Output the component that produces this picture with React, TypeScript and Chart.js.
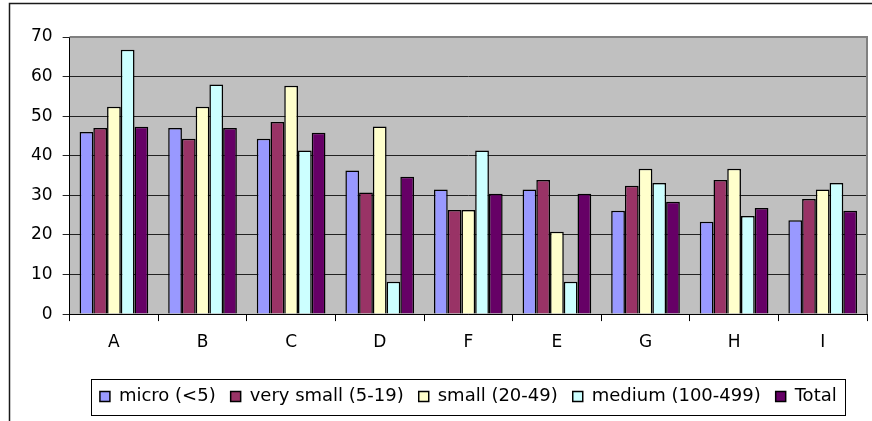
import React, { useEffect, useRef } from "react";
import { Chart, registerables } from "chart.js";

Chart.register(...registerables);

const categories = ["A", "B", "C", "D", "F", "E", "G", "H", "I"];
const seriesNames = ["micro (<5)", "very small (5-19)", "small (20-49)", "medium (100-499)", "Total"];
const micro = [46, 47, 44.3, 36.3, 31.5, 31.5, 26.1, 23.3, 23.7];
const verySmall = [47, 44.3, 48.5, 30.7, 26.3, 33.9, 32.4, 33.9, 29.1];
const small = [52.4, 52.4, 57.7, 47.4, 26.3, 20.8, 36.7, 36.7, 31.5];
const medium = [66.8, 58.0, 41.3, 8.2, 41.3, 8.2, 33.1, 24.8, 33.1];
const total = [47.3, 47.0, 45.8, 34.7, 30.4, 30.4, 28.4, 26.8, 26.1];
const colors = ["#9999FF", "#993366", "#FFFFCC", "#CCFFFF", "#660066"];
const yTickMax = 70;
const yTickStep = 10;

const framePlugin = {
  id: "frame",
  beforeDraw(chart: any) {
    const { ctx, chartArea, width, height } = chart;
    ctx.save();
    ctx.fillStyle = "#ffffff";
    ctx.fillRect(0, 0, width, height);
    ctx.fillStyle = "#C0C0C0";
    ctx.fillRect(chartArea.left, chartArea.top, chartArea.right - chartArea.left, chartArea.bottom - chartArea.top);
    ctx.restore();
  },
  afterDraw(chart: any) {
    const { ctx, chartArea, width, height } = chart;
    ctx.save();
    // outer chart border (left and top)
    ctx.strokeStyle = "#1a1a1a";
    ctx.lineWidth = 1.5;
    ctx.beginPath();
    ctx.moveTo(9.5, height);
    ctx.lineTo(9.5, 3.5);
    ctx.lineTo(width, 3.5);
    ctx.stroke();
    // plot area border top/right
    ctx.strokeStyle = "#808080";
    ctx.lineWidth = 2;
    ctx.beginPath();
    ctx.moveTo(chartArea.left, chartArea.top);
    ctx.lineTo(chartArea.right, chartArea.top);
    ctx.lineTo(chartArea.right, chartArea.bottom);
    ctx.stroke();
    // legend border
    const hb = chart.legend && chart.legend.legendHitBoxes;
    if (hb && hb.length) {
      const first = hb[0];
      const last = hb[hb.length - 1];
      const cy = first.top + first.height / 2;
      const x0 = Math.round(first.left - 9) + 0.5;
      const x1 = Math.round(last.left + last.width + 8) + 0.5;
      ctx.strokeStyle = "#000";
      ctx.lineWidth = 1;
      ctx.strokeRect(x0, Math.round(cy - 18) + 0.5, x1 - x0, 36);
    }
    ctx.restore();
  },
};

export default function App() {
  const ref = useRef<HTMLCanvasElement | null>(null);
  useEffect(() => {
    if (!ref.current) return;
    Chart.defaults.font.family = "'DejaVu Sans', sans-serif";
    Chart.defaults.font.size = 17;
    Chart.defaults.color = "#000";
    const values = [micro, verySmall, small, medium, total];
    const chart = new Chart(ref.current, {
      type: "bar",
      data: {
        labels: categories,
        datasets: values.map((v, i) => ({
          label: seriesNames[i],
          data: v,
          backgroundColor: colors[i],
          borderColor: "#000",
          borderWidth: 1.5,
          categoryPercentage: 0.775,
          barPercentage: 1.0,
        })),
      },
      options: {
        responsive: false,
        animation: false,
        devicePixelRatio: 1,
        layout: { padding: { left: 21, right: 5, top: 37, bottom: 5.5 } },
        plugins: {
          title: { display: false },
          tooltip: { enabled: false },
          legend: {
            position: "bottom",
            fullSize: false,
            labels: {
              boxWidth: 10,
              boxHeight: 10,
              padding: 15,
              color: "#000",
              font: { size: 18 },
            },
          },
        },
        scales: {
          x: {
            grid: { drawOnChartArea: false, drawTicks: true, tickLength: 7, color: "#000", offset: true },
            border: { color: "#000", width: 1 },
            ticks: { padding: 11, color: "#000", font: { size: 17 } },
            afterFit: (scale: any) => {
              scale.height += 9;
            },
          },
          y: {
            min: 0,
            max: yTickMax,
            ticks: { stepSize: yTickStep, padding: 10, color: "#000", font: { size: 17 } },
            grid: { color: "#222", tickLength: 7, lineWidth: 1 },
            border: { color: "#000", width: 1 },
          },
        },
      },
      plugins: [framePlugin],
    });
    return () => chart.destroy();
  }, []);
  return (
    <div style={{ position: "fixed", left: 0, top: 0, width: 872, height: 421, background: "#fff" }}>
      <canvas ref={ref} width={872} height={421} style={{ display: "block" }} />
    </div>
  );
}
